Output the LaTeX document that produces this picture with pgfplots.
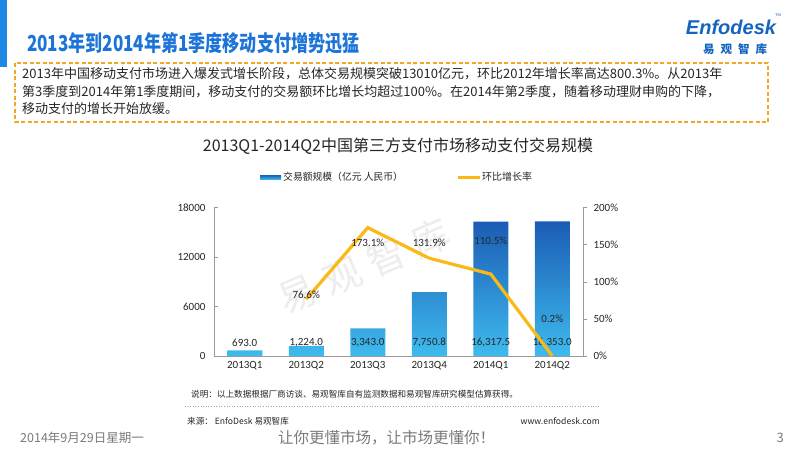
\documentclass[border=0pt]{standalone}
\usepackage{pgfplots}
\pgfplotsset{compat=1.18}
\usepackage{fontspec}
\setmainfont{Carlito}
\newfontfamily\cjk{Noto Sans CJK SC}
\newfontfamily\logofont{Liberation Sans}
\definecolor{titleblue}{HTML}{1C74D8}
\definecolor{logoblue}{HTML}{1565C0}
\definecolor{edgeblue}{HTML}{1E88E5}
\definecolor{boxorange}{HTML}{F2A624}
\definecolor{barTop}{HTML}{1B5CB4}
\definecolor{barBot}{HTML}{3EBBEE}
\definecolor{lineC}{HTML}{FBB917}
\definecolor{txt}{HTML}{262626}
\definecolor{axgray}{HTML}{9A9A9A}
\definecolor{foot}{HTML}{7A7A7A}
\begin{document}
\begin{tikzpicture}
\begin{scope}[x=1pt,y=-1pt]
\fill[white] (0,0) rectangle (800,450);
\useasboundingbox (0,0) rectangle (800,450);
\fill[edgeblue] (0,0) rectangle (7,67);
% title
\node[anchor=west, xscale=0.775, font=\cjk\bfseries\fontsize{22}{24}\selectfont, text=titleblue, inner sep=0] at (27,43.5) {2013年到2014年第1季度移动支付增势迅猛};
% logo
\node[anchor=center, font=\logofont\bfseries\itshape\fontsize{20}{21}\selectfont, text=logoblue, inner sep=0] at (731,27) {Enfodesk};
\node[anchor=center, font=\logofont\fontsize{4}{5}\selectfont, text=logoblue, inner sep=0] at (778,15) {TM};
\node[anchor=center, font=\cjk\bfseries\fontsize{11.5}{13}\selectfont, text=logoblue, inner sep=0] at (735,49) {易\hspace{6pt}观\hspace{6pt}智\hspace{6pt}库};
% text box
\draw[boxorange, line width=1.6pt, dash pattern=on 4pt off 2.5pt] (15,63) rectangle (768,122);
\node[anchor=north west, align=left, font=\cjk\fontsize{13}{17.5}\selectfont, text=txt, inner sep=0] at (22,67.5) {2013年中国移动支付市场进入爆发式增长阶段，总体交易规模突破13010亿元，环比2012年增长率高达800.3\%。从2013年\\第3季度到2014年第1季度期间，移动支付的交易额环比增长均超过100\%。在2014年第2季度，随着移动理财申购的下降，\\移动支付的增长开始放缓。};
% chart title
\node[anchor=center, font=\cjk\fontsize{16}{18}\selectfont, text=txt, inner sep=0] at (398,146) {2013Q1-2014Q2中国第三方支付市场移动支付交易规模};
% legend
\shade[top color=barTop, bottom color=barBot] (260,175) rectangle (281,179.5);
\node[anchor=west, font=\cjk\fontsize{9.8}{11}\selectfont, text=txt, inner sep=0] at (283,177) {交易额规模（亿元 人民币）};
\fill[lineC] (458,175.5) rectangle (480,179);
\node[anchor=west, font=\cjk\fontsize{10}{11}\selectfont, text=txt, inner sep=0] at (482,177) {环比增长率};
% watermark
\node[rotate=23, font=\cjk\fontsize{38}{40}\selectfont, text=black!7, inner sep=0] at (364,266) {易\hspace{10pt}观\hspace{10pt}智\hspace{10pt}库};
% notes
\node[anchor=west, font=\cjk\fontsize{8.6}{10}\selectfont, text=txt, inner sep=0] at (191,394) {说明：以上数据根据厂商访谈、易观智库自有监测数据和易观智库研究模型估算获得。};
\draw[black!35, line width=0.6pt, dotted] (185,406.5) -- (600,406.5);
\node[anchor=west, font=\cjk\fontsize{8.6}{10}\selectfont, text=txt, inner sep=0] at (187,421) {来源： EnfoDesk 易观智库};
\node[anchor=east, font=\cjk\fontsize{8.6}{10}\selectfont, text=txt, inner sep=0] at (600,421) {www.enfodesk.com};
% footer
\node[anchor=west, font=\cjk\fontsize{12.5}{14}\selectfont, text=foot, inner sep=0] at (20,438) {2014年9月29日星期一};
\node[anchor=west, font=\cjk\fontsize{15.5}{17}\selectfont, text=foot, inner sep=0] at (278,438) {让你更懂市场，让市场更懂你！};
\node[anchor=east, font=\cjk\fontsize{13}{14}\selectfont, text=foot, inner sep=0] at (784,438) {3};
\end{scope}
% bars
\begin{axis}[at={(214pt,-356pt)}, anchor=south west, scale only axis,
  width=369pt, height=148.3pt, xmin=-0.5, xmax=5.5, ymin=0, ymax=18000,
  axis y line*=left, axis x line*=bottom,
  axis line style={axgray, line width=0.7pt, -},
  ytick={0,6000,12000,18000}, xtick={0,1,2,3,4,5},
  xticklabels={2013Q1,2013Q2,2013Q3,2013Q4,2014Q1,2014Q2},
  xtick style={draw=none}, ytick style={axgray, line width=0.7pt},
  major tick length=4pt, tick align=inside,
  scaled y ticks=false,
  /pgf/number format/assume math mode=true,
  /pgf/number format/set thousands separator={},
  tick label style={font=\fontsize{11}{12}\selectfont, text=txt},
  yticklabel style={xshift=-5pt},
  xticklabel style={yshift=-2pt},
  clip=false]
\addplot[ybar, bar width=35pt, draw=none, top color=barTop, bottom color=barBot]
  coordinates {(0,693.0) (1,1224.0) (2,3343.0) (3,7750.8) (4,16317.5) (5,16353.0)};
\begin{scope}[font=\fontsize{11}{12}\selectfont, text=txt]
\node at (axis cs:0,1600) {693.0};
\node at (axis cs:1,1600) {1,224.0};
\node at (axis cs:2,1600) {3,343.0};
\node at (axis cs:3,1600) {7,750.8};
\node at (axis cs:4,1600) {16,317.5};
\node at (axis cs:5,1600) {16,353.0};
\end{scope}
\end{axis}
% line
\begin{axis}[at={(214pt,-356pt)}, anchor=south west, scale only axis,
  width=369pt, height=148.3pt, xmin=-0.5, xmax=5.5, ymin=0, ymax=200,
  axis y line*=right, axis x line=none,
  axis line style={axgray, line width=0.7pt, -},
  ytick={0,50,100,150,200},
  yticklabel={\pgfmathprintnumber{\tick}\%},
  ytick style={axgray, line width=0.7pt},
  major tick length=4pt, tick align=outside,
  /pgf/number format/assume math mode=true,
  tick label style={font=\fontsize{11}{12}\selectfont, text=txt},
  yticklabel style={xshift=3pt},
  clip=false]
\addplot[lineC, line width=3.2pt, line join=miter] coordinates {(1,76.6) (2,173.1) (3,131.9) (4,110.5) (5,0.2)};
\begin{scope}[font=\fontsize{11}{12}\selectfont, text=txt]
\node at (axis cs:1,82.3) {76.6\%};
\node at (axis cs:2,152.4) {173.1\%};
\node at (axis cs:3,152.4) {131.9\%};
\node at (axis cs:4,155) {110.5\%};
\node at (axis cs:5,50) {0.2\%};
\end{scope}
\end{axis}
\end{tikzpicture}
\end{document}
